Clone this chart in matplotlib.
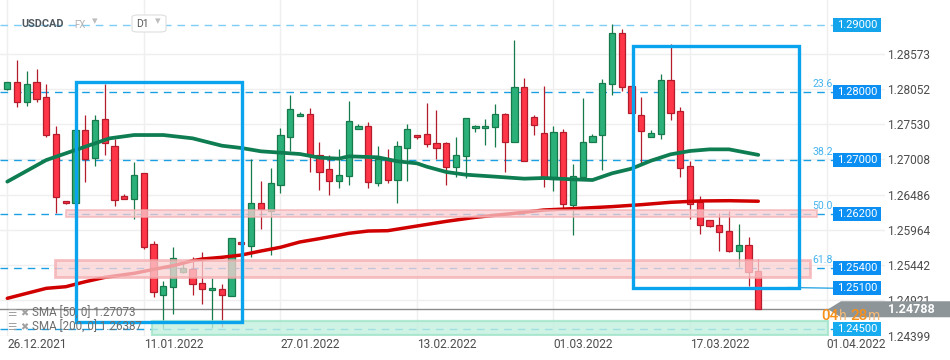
import matplotlib.pyplot as plt
from matplotlib.patches import Rectangle, Polygon, FancyBboxPatch

plt.rcParams['font.family'] = ['Roboto', 'DejaVu Sans']

# daily candles, USDCAD
opens = [1.28043, 1.28147, 1.27851, 1.28147, 1.27925, 1.27377, 1.26385, 1.26366, 1.27436, 1.27022,
         1.27599, 1.27200, 1.26460, 1.26425, 1.26800, 1.25749, 1.25004, 1.25112, 1.25335, 1.25379,
         1.25172, 1.25068, 1.25083, 1.24979, 1.25779, 1.25729, 1.26361, 1.26238, 1.26632, 1.27333,
         1.27654, 1.27673, 1.27066, 1.26859, 1.26691, 1.26756, 1.27451, 1.27496, 1.26662, 1.26997,
         1.26706, 1.27170, 1.27362, 1.27377, 1.27244, 1.27244, 1.26889, 1.27052, 1.27466, 1.27466,
         1.27481, 1.27673, 1.27259, 1.28073, 1.27629, 1.27392, 1.26711, 1.27407, 1.26326, 1.26741,
         1.27259, 1.27362, 1.28117, 1.28872, 1.28088, 1.27659, 1.27333, 1.27377, 1.28177, 1.27718,
         1.26904, 1.26371, 1.26104, 1.26030, 1.25941, 1.25645, 1.25734, 1.25350]
highs = [1.28157, 1.28478, 1.28315, 1.28344, 1.28122, 1.27501, 1.26390, 1.27440, 1.27663, 1.27663,
         1.28122, 1.27308, 1.26494, 1.26963, 1.26805, 1.25798, 1.25201, 1.25710, 1.25468, 1.25557,
         1.25631, 1.25256, 1.25157, 1.25838, 1.25789, 1.27012, 1.26687, 1.26879, 1.27476, 1.27959,
         1.27713, 1.27762, 1.27264, 1.27066, 1.27160, 1.27871, 1.27530, 1.27560, 1.27200, 1.27160,
         1.27279, 1.27525, 1.27367, 1.27841, 1.27737, 1.27259, 1.27338, 1.27614, 1.27510, 1.27604,
         1.27826, 1.27688, 1.28774, 1.28211, 1.27659, 1.28093, 1.27496, 1.27451, 1.26933, 1.27915,
         1.27382, 1.28191, 1.29010, 1.28930, 1.28088, 1.27925, 1.27437, 1.28270, 1.28714, 1.27777,
         1.26978, 1.26460, 1.26104, 1.26208, 1.26237, 1.26045, 1.25853, 1.25527]
lows = [1.28033, 1.27787, 1.27802, 1.27851, 1.27343, 1.26208, 1.26351, 1.26360, 1.26677, 1.26913,
        1.27071, 1.26321, 1.26415, 1.26119, 1.25685, 1.24964, 1.24491, 1.24713, 1.25320, 1.24999,
        1.24866, 1.24506, 1.24530, 1.24979, 1.25739, 1.25557, 1.25976, 1.25591, 1.26514, 1.27135,
        1.27649, 1.26825, 1.26558, 1.26484, 1.26588, 1.26632, 1.27451, 1.26588, 1.26617, 1.26662,
        1.26366, 1.26691, 1.27313, 1.27195, 1.27012, 1.26632, 1.26751, 1.26736, 1.27417, 1.27219,
        1.27195, 1.26825, 1.27259, 1.26978, 1.27367, 1.26603, 1.26543, 1.26282, 1.25882, 1.26701,
        1.27259, 1.26854, 1.27964, 1.28024, 1.27688, 1.26948, 1.27333, 1.27303, 1.27584, 1.26741,
        1.26129, 1.25897, 1.26001, 1.25655, 1.25640, 1.25418, 1.25137, 1.24788]
closes = [1.28147, 1.27856, 1.28117, 1.27905, 1.27372, 1.26445, 1.26356, 1.27436, 1.27007, 1.27584,
          1.27244, 1.26400, 1.26425, 1.26770, 1.25715, 1.25038, 1.25132, 1.25542, 1.25394, 1.25157,
          1.25083, 1.25098, 1.25004, 1.25838, 1.25749, 1.26361, 1.26277, 1.26652, 1.27362, 1.27747,
          1.27683, 1.27066, 1.26825, 1.26691, 1.26770, 1.27575, 1.27496, 1.26677, 1.27012, 1.26706,
          1.27200, 1.27451, 1.27333, 1.27239, 1.27170, 1.26889, 1.27066, 1.27614, 1.27496, 1.27496,
          1.27673, 1.27259, 1.28073, 1.26987, 1.27510, 1.26736, 1.27407, 1.26341, 1.26756, 1.27259,
          1.27348, 1.28132, 1.28872, 1.28073, 1.27688, 1.27422, 1.27392, 1.28177, 1.27688, 1.26874,
          1.26341, 1.26031, 1.26016, 1.25927, 1.25645, 1.25734, 1.25335, 1.24788]

# moving averages (candle index, value)
sma50_x = [0, 4, 6, 8, 10.5, 13, 16, 19, 22, 24, 26, 29, 30, 32, 34, 35, 38, 40, 42, 43, 45, 47,
           50, 53, 55, 58, 60, 62, 64, 66, 68, 70, 72, 74, 77]
sma50_y = [1.26677, 1.26997, 1.27096, 1.27195, 1.27318, 1.27367, 1.27367, 1.27318, 1.27209, 1.27175,
           1.27126, 1.27096, 1.27086, 1.27032, 1.27017, 1.27052, 1.27037, 1.26978, 1.26948, 1.26899,
           1.26820, 1.26780, 1.26751, 1.26721, 1.26731, 1.26711, 1.26701, 1.26800, 1.26869, 1.26987,
           1.27081, 1.27131, 1.27155, 1.27155, 1.27073]
sma200_x = [0, 4, 6, 8, 10, 13, 15, 17, 19, 20, 22, 24, 26, 28, 30, 32, 35, 37, 39, 42, 45, 48,
            52, 55, 58, 62, 65, 68, 71, 74, 77]
sma200_y = [1.24950, 1.25098, 1.25122, 1.25196, 1.25260, 1.25320, 1.25379, 1.25433, 1.25507, 1.25532,
            1.25557, 1.25591, 1.25650, 1.25705, 1.25784, 1.25833, 1.25912, 1.25946, 1.25951, 1.26020,
            1.26089, 1.26149, 1.26208, 1.26257, 1.26277, 1.26307, 1.26336, 1.26371, 1.26391, 1.26395,
            1.26387]

price_ticks = [1.28573, 1.28052, 1.27530, 1.27008, 1.26486, 1.25964, 1.25442, 1.24921, 1.24399]
date_pos = [0, 14, 28, 42, 56, 70, 84]
date_labels = ['26.12.2021', '11.01.2022', '27.01.2022', '13.02.2022',
               '01.03.2022', '17.03.2022', '01.04.2022']

levels = [1.29, 1.28, 1.27, 1.262, 1.254, 1.245]
box_levels = [1.29, 1.28, 1.27, 1.262, 1.254, 1.251, 1.245]
fib_levels = [1.28, 1.27, 1.262, 1.254]
fib_labels = ['23.6', '38.2', '50.0', '61.8']
last_price = 1.24788

# pixel helpers for annotation layout
X0, DX, PPU = 7.3, 9.753, 6756.0


def ix(px):
    return (px - X0) / DX


def dp(px):
    return px / PPU


GREEN, GREEN_E = '#2bb07a', '#177a4b'
RED, RED_E = '#ff3648', '#b31c2b'
BLUE = '#0aa4ee'

fig = plt.figure(figsize=(9.5, 3.6), dpi=100)
ax = fig.add_axes([0, 24 / 360, 885 / 950, 336 / 360])
ax.set_xlim(ix(0), ix(885))
ax.set_ylim(1.29 - dp(336 - 24.7), 1.29 + dp(24.7))

for s in ax.spines.values():
    s.set_visible(False)

ax.set_xticks(date_pos, date_labels)
for lab in ax.get_xticklabels():
    lab.set_ha('left')
ax.yaxis.tick_right()
ax.set_yticks(price_ticks, [f'{t:.5f}' for t in price_ticks])
ax.tick_params(axis='x', length=0, pad=1.5, labelsize=8.6, labelcolor='#4d4d4d')
ax.tick_params(axis='y', length=0, pad=1.5, labelsize=8.6, labelcolor='#4d4d4d')
ax.grid(True, color='#efefef', lw=1.0, zorder=0)
ax.set_axisbelow(True)

# level lines
for lv in levels:
    c = '#7fcdf5' if lv == 1.29 else '#1a9fe3'
    ax.plot([ix(0), ix(833)], [lv, lv], color=c, lw=1.0, dashes=(5.5, 4.3), zorder=1)
ax.plot([ix(788), ix(833)], [1.2511, 1.251], color='#1a9fe3', lw=0.9, zorder=1)
ax.plot([ix(0), ix(830)], [last_price, last_price], color='#8a8a8a', lw=1.0, zorder=1)

# candles
n = len(opens)
xs = list(range(n))
for i in xs:
    o, h, l, c = opens[i], highs[i], lows[i], closes[i]
    up = c >= o
    ec = GREEN_E if up else RED_E
    fc = GREEN if up else RED
    ax.vlines(i, l, h, color=ec, lw=0.9, zorder=2)
    ax.bar(i, abs(c - o), bottom=min(o, c), width=0.64, color=fc, edgecolor=ec,
           linewidth=0.9, zorder=2.2)

ax.plot(sma50_x, sma50_y, color='#0f7d52', lw=2.7, solid_capstyle='round', zorder=3)
ax.plot(sma200_x, sma200_y, color='#d10000', lw=2.5, solid_capstyle='round', zorder=3)

# zones
ax.add_patch(Rectangle((ix(66), 1.2615), ix(817) - ix(66), 0.00100, fc='#f9cccf', ec='#f3aeb1',
                       lw=1.2, alpha=0.75, zorder=4))
ax.add_patch(Rectangle((ix(55), 1.2527), ix(810) - ix(55), 0.00247, fc='#fbd2d4', ec='#f4abae',
                       lw=2.0, alpha=0.75, zorder=4))
ax.add_patch(Rectangle((ix(152), 1.2440), ix(828) - ix(152), 0.00219, fc='#c2f0df', ec='#9fe4c9',
                       lw=1.6, alpha=0.8, zorder=4))

# analysis boxes
ax.add_patch(Rectangle((ix(75.5), 1.24604), ix(241.7) - ix(75.5), 1.28152 - 1.24604, fill=False,
                       ec=BLUE, lw=2.4, zorder=5))
ax.add_patch(Rectangle((ix(632.7), 1.2511), ix(798.7) - ix(632.7), 1.28685 - 1.2511, fill=False,
                       ec=BLUE, lw=2.4, zorder=5))

# fibonacci labels
for lv, t in zip(fib_levels, fib_labels):
    ax.text(ix(833), lv + dp(8), t, color='#45b3ee', fontsize=7.6, ha='right', va='center',
            zorder=6)

# price tags on the right
for lv in box_levels:
    fc = '#0b8ff3'
    if lv == 1.29:
        fc = '#13a4ec'
    if lv == 1.245:
        fc = '#17abef'
    ax.add_patch(Rectangle((ix(833), lv - dp(7)), ix(881) - ix(833), dp(14), fc=fc, ec='none',
                           zorder=8, clip_on=False))
    ax.text(ix(857), lv, f'{lv:.5f}', color='white', fontsize=8, ha='center', va='center',
            zorder=9, clip_on=False)

# last price tag
tag = [(ix(828), last_price), (ix(841), last_price + dp(8)), (ix(950), last_price + dp(8)),
       (ix(950), last_price - dp(8)), (ix(841), last_price - dp(8))]
ax.add_patch(Polygon(tag, closed=True, fc='#8d9598', ec='none', zorder=8, clip_on=False))
ax.text(ix(911), last_price, f'{last_price:.5f}', color='white', fontsize=9, fontweight='bold',
        ha='center', va='center', zorder=9, clip_on=False)

# countdown
cy = last_price - dp(6.5)
ax.text(ix(821), cy, '04', color='#f7901a', fontsize=11, fontweight='medium', ha='left',
        va='center', zorder=9, clip_on=False)
ax.text(ix(839), cy, 'h', color='#f4b874', fontsize=10, ha='left', va='center', zorder=9,
        clip_on=False)
ax.text(ix(850), cy, '28', color='#f7901a', fontsize=11, fontweight='medium', ha='left',
        va='center', zorder=9, clip_on=False)
ax.text(ix(868), cy, 'm', color='#f4b874', fontsize=10, ha='left', va='center', zorder=9,
        clip_on=False)

# indicator legend
for py, t in [(313.5, 'SMA [50, 0] 1.27073'), (327.5, 'SMA [200, 0] 1.26387')]:
    fig.text(7 / 950, 1 - py / 360, '\u2630', color='#a0a0a0', fontsize=7.5, va='center',
             family='DejaVu Sans')
    fig.text(20 / 950, 1 - py / 360, '\u2716', color='#a0a0a0', fontsize=7, va='center',
             family='DejaVu Sans')
    fig.text(32 / 950, 1 - py / 360, t, color='#6e6e6e', fontsize=8.4, va='center')

# header
fig.text(21 / 950, 1 - 24 / 360, 'USDCAD', color='#4f585e', fontsize=7.8, fontweight='bold',
         va='center')
fig.text(74 / 950, 1 - 25 / 360, 'FX', color='#b3b3b3', fontsize=7, va='center')
fig.text(92 / 950, 1 - 21 / 360, '\u25be', color='#bdbdbd', fontsize=8, va='center',
         family='DejaVu Sans')
fig.patches.append(FancyBboxPatch((132 / 950, 1 - 32 / 360), 34 / 950, 17 / 360,
                                  boxstyle='round,pad=0,rounding_size=0.006',
                                  transform=fig.transFigure, fc='white', ec='#dedede', lw=0.8))
fig.text(136 / 950, 1 - 24 / 360, 'D1', color='#555555', fontsize=7.5, va='center')
fig.text(155 / 950, 1 - 21 / 360, '\u25be', color='#bdbdbd', fontsize=8, va='center',
         family='DejaVu Sans')

fig.savefig('out.png', dpi=100)
